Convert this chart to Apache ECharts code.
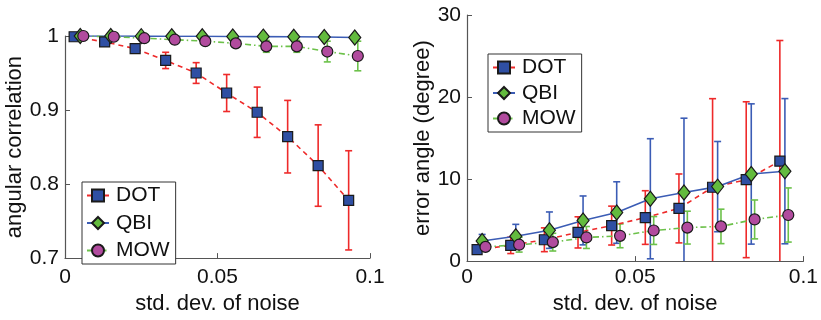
<!DOCTYPE html>
<html><head><meta charset="utf-8">
<script src="https://cdn.jsdelivr.net/npm/echarts@6/dist/echarts.min.js"></script>
<style>html,body{margin:0;padding:0;background:#fff}#c{width:821px;height:320px}</style>
</head><body><div id="c"></div>
<script>
// ---- Left panel: angular correlation ----
const dotX_L = [0.003,0.013,0.023,0.033,0.043,0.053,0.063,0.073,0.083,0.093];
const dotY_L = [0.999,0.992,0.983,0.967,0.950,0.923,0.897,0.864,0.825,0.778];
const dotE_L = [0.001,0.002,0.004,0.011,0.014,0.025,0.034,0.049,0.055,0.067];
const qbiX_L = [0.005,0.015,0.025,0.035,0.045,0.055,0.065,0.075,0.085,0.095];
const qbiY_L = [1.0,1.0,0.9998,0.9997,0.9996,0.9994,0.9992,0.999,0.9986,0.998];
const qbiE_L = [0.0003,0.0003,0.0004,0.0005,0.0005,0.0006,0.0008,0.001,0.0012,0.0015];
const mowX_L = [0.006,0.016,0.026,0.036,0.046,0.056,0.066,0.076,0.086,0.096];
const mowY_L = [1.0,0.999,0.997,0.995,0.993,0.990,0.986,0.986,0.979,0.973];
const mowE_L = [0.0005,0.001,0.0015,0.002,0.003,0.004,0.008,0.008,0.014,0.02];
// ---- Right panel: error angle ----
const dotX_R = [0.003,0.013,0.023,0.033,0.043,0.053,0.063,0.073,0.083,0.093];
const dotY_R = [1.4,1.92,2.6,3.5,4.33,5.31,6.42,9.0,9.92,12.19];
const dotE_R = [0.4,1.0,1.45,1.9,2.37,3.27,4.2,10.8,9.5,14.7];
const qbiX_R = [0.0045,0.0145,0.0245,0.0345,0.0445,0.0545,0.0645,0.0745,0.0845,0.0945];
const qbiY_R = [2.45,3.03,3.77,4.96,5.92,7.6,8.37,9.08,10.62,10.96];
const qbiE_R = [0.8,1.45,2.22,2.98,3.75,7.32,9.05,5.5,8.55,8.85];
const mowX_R = [0.0055,0.0155,0.0255,0.0355,0.0455,0.0555,0.0655,0.0755,0.0855,0.0955];
const mowY_R = [1.73,2.0,2.31,2.88,3.08,3.73,4.08,4.23,5.08,5.62];
const mowE_R = [0.3,0.9,1.08,1.34,1.45,1.7,2.0,2.1,2.37,3.3];

const seriesNames = ['DOT','QBI','MOW'];
const xTicks = [0, 0.05, 0.1];

const FONT = 'Liberation Sans, Arial, Helvetica, sans-serif';
const C = {
  dotLine:'#ee2a2a', dotFill:'#2f4fa3', dotErr:'#ee2a2a',
  qbiLine:'#3b5cb5', qbiFill:'#63bb3e', qbiErr:'#3b5cb5',
  mowLine:'#6cc14a', mowFill:'#b14b9e', mowErr:'#6cc14a'
};

function pairs(xs, ys){ return xs.map((x,i)=>[x, ys[i]]); }
function triples(xs, ys, es){ return xs.map((x,i)=>[x, ys[i], es[i]]); }

function errSeries(idx, xs, ys, es, color, yMin, yMax){
  return {
    type:'custom', xAxisIndex:idx, yAxisIndex:idx, z:1, silent:true,
    data: triples(xs, ys, es),
    renderItem: function(params, api){
      const x = api.value(0), y = api.value(1), e = api.value(2);
      let lo = y - e, hi = y + e;
      const loCap = lo >= yMin, hiCap = hi <= yMax;
      lo = Math.max(lo, yMin); hi = Math.min(hi, yMax);
      const pLo = api.coord([x, lo]), pHi = api.coord([x, hi]);
      const w = 3.5;
      const style = {stroke: color, lineWidth: 1.6};
      const ch = [{type:'line', shape:{x1:pLo[0], y1:pLo[1], x2:pHi[0], y2:pHi[1]}, style}];
      if (loCap) ch.push({type:'line', shape:{x1:pLo[0]-w, y1:pLo[1], x2:pLo[0]+w, y2:pLo[1]}, style});
      if (hiCap) ch.push({type:'line', shape:{x1:pHi[0]-w, y1:pHi[1], x2:pHi[0]+w, y2:pHi[1]}, style});
      return {type:'group', children: ch};
    }
  };
}

function lineSeries(idx, name, xs, ys, sym, size, fill, lineColor, lineType){
  return {
    type:'line', name, xAxisIndex:idx, yAxisIndex:idx, z:3,
    data: pairs(xs, ys), symbol: sym, symbolSize: size, showAllSymbol:true,
    itemStyle:{color: fill, borderColor:'#1a1a1a', borderWidth:1.2},
    lineStyle:{color: lineColor, width:1.6, type: lineType},
    emphasis:{disabled:true}, animation:false
  };
}

const axisCommon = {
  axisLine:{show:true, onZero:false, lineStyle:{color:'#555', width:1.2}},
  axisTick:{show:true, inside:true, length:5, lineStyle:{color:'#555'}},
  splitLine:{show:false},
  axisLabel:{color:'#111', fontSize:21, fontFamily:FONT},
  nameTextStyle:{color:'#111', fontSize:22, fontFamily:FONT}
};

function xAxis(idx, margin, gap){
  return Object.assign({}, JSON.parse(JSON.stringify(axisCommon)), {
    type:'value', gridIndex:idx, min:xTicks[0], max:xTicks[xTicks.length-1], interval:0.05,
    name:'std. dev. of noise', nameLocation:'middle', nameGap:gap,
    axisLabel:Object.assign({}, axisCommon.axisLabel, {margin, formatter: v => String(+v.toFixed(2))})
  });
}
function yAxis(idx, name, min, max, interval, gap){
  return Object.assign({}, JSON.parse(JSON.stringify(axisCommon)), {
    type:'value', gridIndex:idx, min, max, interval,
    name, nameLocation:'middle', nameGap:gap,
    axisLabel:Object.assign({}, axisCommon.axisLabel, {margin:6, formatter: v => String(+v.toFixed(2))})
  });
}

function legend(left, top, gap){
  return {
    data: seriesNames, orient:'vertical', left, top,
    itemWidth:22, itemHeight:15, itemGap:gap,
    padding:[3,6,3,4],
    borderColor:'#333', borderWidth:1, backgroundColor:'#fff',
    textStyle:{fontSize:21, fontFamily:FONT, color:'#111', lineHeight:21, padding:[0,0,0,2]},
    selectedMode:false
  };
}

const option = {
  animation:false,
  grid:[
    {left:65, right:451, top:36, bottom:52, containLabel:false},
    {left:467, right:14, top:15, bottom:45, containLabel:false}
  ],
  xAxis:[ xAxis(0, 9, 30), xAxis(1, 6, 24) ],
  yAxis:[ yAxis(0, 'angular correlation', 0.7, 1, 0.1, 35), yAxis(1, 'error angle (degree)', 0, 30, 10, 20) ],
  legend:[ legend(82, 182, 6.5), legend(488, 54, 4.5) ],
  series:[
    errSeries(0, dotX_L, dotY_L, dotE_L, C.dotErr, 0.7, 1),
    errSeries(0, qbiX_L, qbiY_L, qbiE_L, C.qbiErr, 0.7, 1),
    errSeries(0, mowX_L, mowY_L, mowE_L, C.mowErr, 0.7, 1),
    lineSeries(0, 'DOT', dotX_L, dotY_L, 'rect', 10, C.dotFill, C.dotLine, [5,4]),
    lineSeries(0, 'QBI', qbiX_L, qbiY_L, 'diamond', [12,15], C.qbiFill, C.qbiLine, 'solid'),
    lineSeries(0, 'MOW', mowX_L, mowY_L, 'circle', 11, C.mowFill, C.mowLine, [6,3,1.5,3]),
    errSeries(1, dotX_R, dotY_R, dotE_R, C.dotErr, 0, 30),
    errSeries(1, qbiX_R, qbiY_R, qbiE_R, C.qbiErr, 0, 30),
    errSeries(1, mowX_R, mowY_R, mowE_R, C.mowErr, 0, 30),
    lineSeries(1, 'DOT', dotX_R, dotY_R, 'rect', 10, C.dotFill, C.dotLine, [5,4]),
    lineSeries(1, 'QBI', qbiX_R, qbiY_R, 'diamond', [12,15], C.qbiFill, C.qbiLine, 'solid'),
    lineSeries(1, 'MOW', mowX_R, mowY_R, 'circle', 11, C.mowFill, C.mowLine, [6,3,1.5,3])
  ]
};
const chart = echarts.init(document.getElementById('c'), null, {renderer:'canvas'});
chart.setOption(option);
</script>
</body></html>
